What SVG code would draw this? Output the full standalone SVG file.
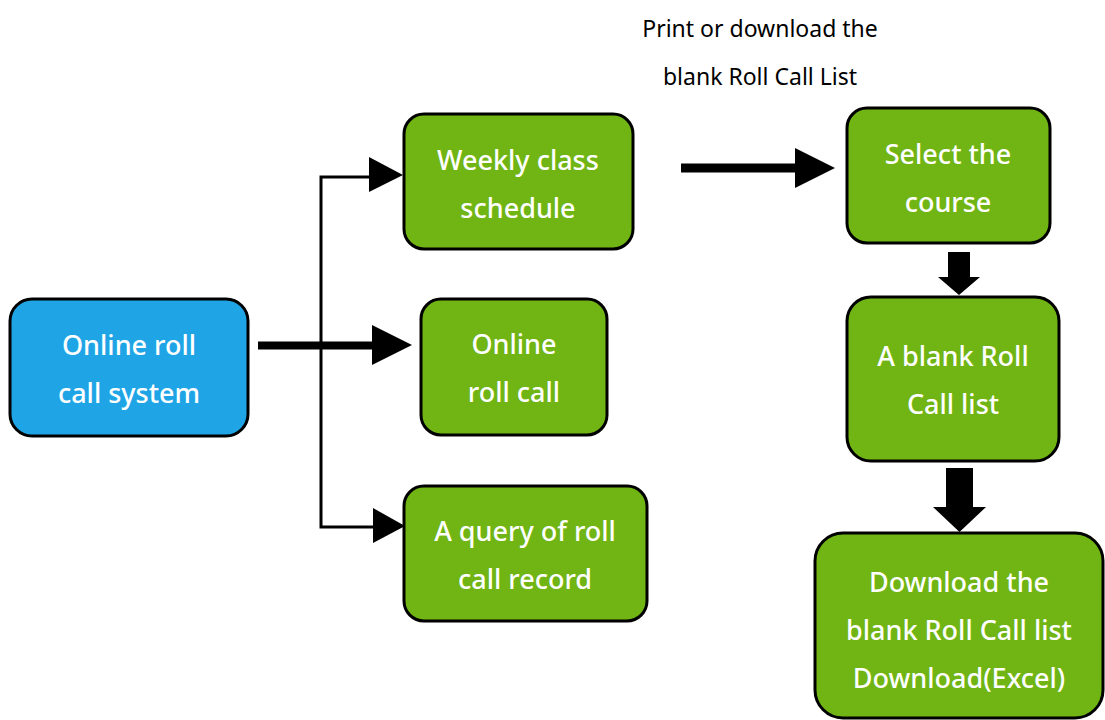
<svg xmlns="http://www.w3.org/2000/svg" width="1105" height="720" viewBox="0 0 1105 720">
<style>
.box{fill:#70B513;stroke:#000;stroke-width:3}
.blue{fill:#1FA5E6;stroke:#000;stroke-width:3}
.t{font-family:"Noto Sans","Open Sans",sans-serif;font-size:27px;font-weight:500;fill:#fff;text-anchor:middle}
.cap{font-family:"Noto Sans","Open Sans",sans-serif;font-size:23px;fill:#000;text-anchor:middle}
.ln{stroke:#000;fill:none}
.ah{fill:#000}
</style>
<rect width="1105" height="720" fill="#fff"/>
<g id="caption">
<text class="cap" x="760" y="37">Print or download the</text>
<text class="cap" x="760" y="85">blank Roll Call List</text>
</g>
<g id="connectors">
<path class="ln" stroke-width="3" d="M371,177 H321 V527 H373"/>
<polygon class="ah" points="369,157 403,175 369,192"/>
<polygon class="ah" points="373,508 405,526 373,543"/>
<path class="ln" stroke-width="8" d="M258,345.5 H373"/>
<polygon class="ah" points="372,325 412,345 372,365"/>
<path class="ln" stroke-width="9" d="M681,168 H796"/>
<polygon class="ah" points="795,148 835,168 795,188"/>
<polygon class="ah" points="948,252 970,252 970,277 980,277 959,295 938,277 948,277"/>
<polygon class="ah" points="946,468 973,468 973,507 986,507 959.5,532 933,507 946,507"/>
</g>
<g id="n-system">
<rect class="blue" x="10" y="299" width="238" height="137" rx="22"/>
<text class="t" x="129" y="355">Online roll</text>
<text class="t" x="129" y="403">call system</text>
</g>
<g id="n-weekly">
<rect class="box" x="404" y="114" width="229" height="135" rx="20"/>
<text class="t" x="518" y="170">Weekly class</text>
<text class="t" x="518" y="218">schedule</text>
</g>
<g id="n-online">
<rect class="box" x="421" y="299" width="186" height="136" rx="20"/>
<text class="t" x="514" y="354">Online</text>
<text class="t" x="514" y="402">roll call</text>
</g>
<g id="n-query">
<rect class="box" x="404" y="486" width="243" height="135" rx="20"/>
<text class="t" x="525" y="541">A query of roll</text>
<text class="t" x="525" y="589">call record</text>
</g>
<g id="n-select">
<rect class="box" x="847" y="108" width="203" height="135" rx="20"/>
<text class="t" x="948" y="164">Select the</text>
<text class="t" x="948" y="212">course</text>
</g>
<g id="n-blank">
<rect class="box" x="847" y="297" width="212" height="164" rx="24"/>
<text class="t" x="953" y="366">A blank Roll</text>
<text class="t" x="953" y="414">Call list</text>
</g>
<g id="n-download">
<rect class="box" x="815" y="533" width="288" height="185" rx="28"/>
<text class="t" x="959" y="592">Download the</text>
<text class="t" x="959" y="640">blank Roll Call list</text>
<text class="t" x="959" y="688">Download(Excel)</text>
</g>
</svg>
